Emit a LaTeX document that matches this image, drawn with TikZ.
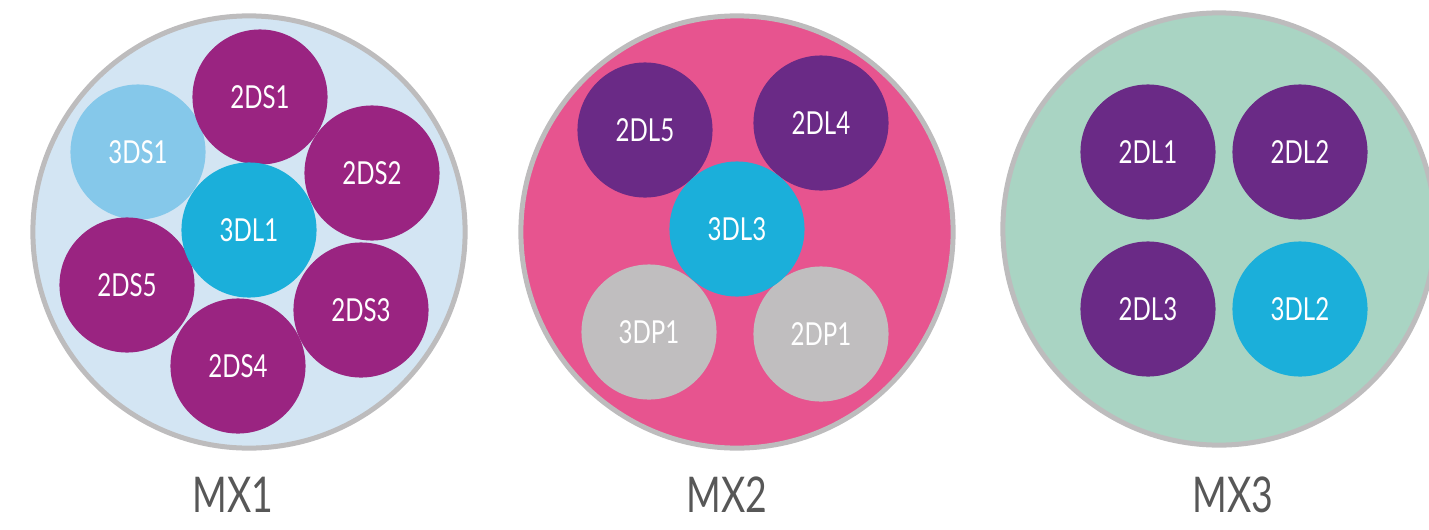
\documentclass[tikz,border=0pt]{standalone}
\usepackage{fontspec}
\setmainfont[FakeStretch=0.76]{Lato}
\definecolor{rimgray}{HTML}{BDBCBD}
\definecolor{skybg}{HTML}{D3E5F3}
\definecolor{pinkbg}{HTML}{E7548F}
\definecolor{mintbg}{HTML}{A9D4C3}
\definecolor{plum}{HTML}{9A2481}
\definecolor{grape}{HTML}{6A2A86}
\definecolor{paleblue}{HTML}{85C8EA}
\definecolor{cyanblue}{HTML}{1BAFDA}
\definecolor{silver}{HTML}{C0BEBF}
\definecolor{labelgray}{HTML}{575757}
\begin{document}
\begin{tikzpicture}[x=0.01cm, y=-0.01cm,
	pool/.style={circle, draw=rimgray, line width=0.05cm, minimum size=4.32cm, inner sep=0pt},
	disk/.style={circle, minimum size=1.35cm, inner sep=0pt, text=white, font=\fontsize{9}{9}\selectfont},
	caption/.style={text=labelgray, font=\fontsize{14}{14}\selectfont}]
	\useasboundingbox (0,0) rectangle (1429,530);
	% enclosures
	\node[pool, fill=skybg] (mx1) at (249,232) {};
	\node[pool, fill=pinkbg] (mx2) at (737,232) {};
	\node[pool, fill=mintbg] (mx3) at (1219,229) {};
	% MX1
	\node[disk, fill=paleblue] (3ds1) at (138,152) {3DS1};
	\node[disk, fill=plum] (2ds1) at (260,97) {2DS1};
	\node[disk, fill=plum] (2ds2) at (372,173) {2DS2};
	\node[disk, fill=plum] (2ds5) at (127,285) {2DS5};
	\node[disk, fill=plum] (2ds3) at (361,310) {2DS3};
	\node[disk, fill=plum] (2ds4) at (238,366) {2DS4};
	\node[disk, fill=cyanblue] (3dl1) at (249,230) {3DL1};
	% MX2
	\node[disk, fill=grape] (2dl5) at (645,130) {2DL5};
	\node[disk, fill=grape] (2dl4) at (821,123) {2DL4};
	\node[disk, fill=silver] (3dp1) at (649,332) {3DP1};
	\node[disk, fill=silver] (2dp1) at (821,334) {2DP1};
	\node[disk, fill=cyanblue] (3dl3) at (737,229) {3DL3};
	% MX3
	\node[disk, fill=grape] (2dl1) at (1148,152) {2DL1};
	\node[disk, fill=grape] (2dl2) at (1300,152) {2DL2};
	\node[disk, fill=grape] (2dl3) at (1148,309) {2DL3};
	\node[disk, fill=cyanblue] (3dl2) at (1300,309) {3DL2};
	% captions
	\node[caption] (cap1) at (233,495) {MX1};
	\node[caption] (cap2) at (727,495) {MX2};
	\node[caption] (cap3) at (1233,495) {MX3};
\end{tikzpicture}
\end{document}
